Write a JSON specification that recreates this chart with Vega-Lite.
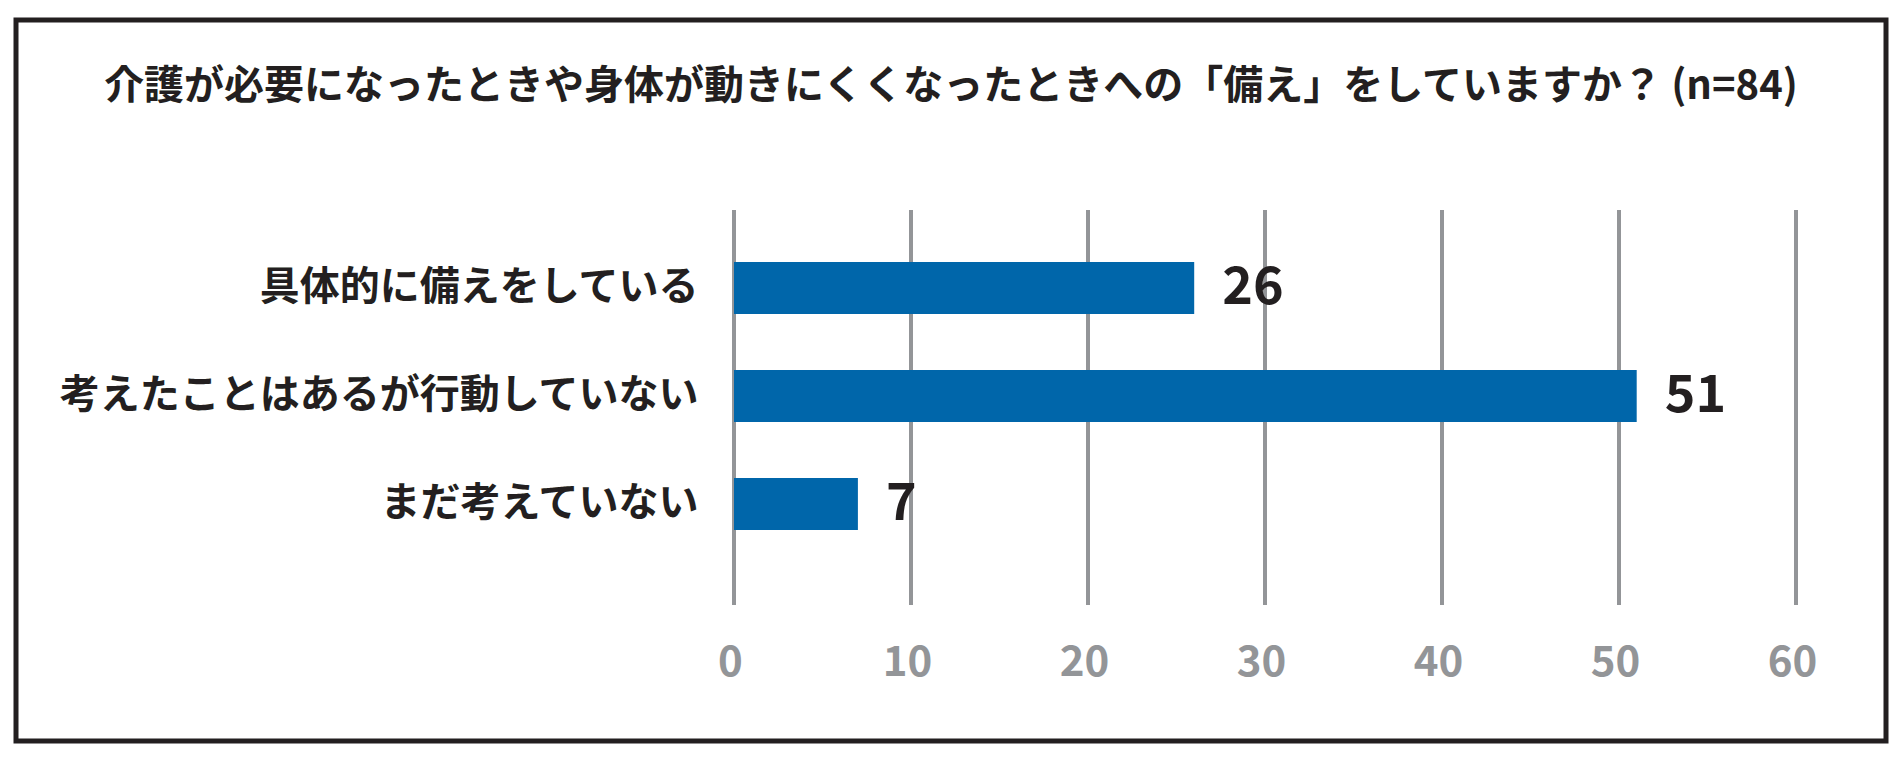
{
  "$schema": "https://vega.github.io/schema/vega-lite/v6.json",
  "description": "介護への備え (n=84)",
  "autosize": {"type": "none"},
  "width": 1870,
  "height": 721,
  "padding": {"left": 16, "top": 20, "right": 17, "bottom": 21},
  "background": "white",
  "title": {
    "text": "介護が必要になったときや身体が動きにくくなったときへの「備え」をしていますか？ (n=84)",
    "frame": "group",
    "anchor": "middle",
    "orient": "top",
    "baseline": "middle",
    "offset": -107,
    "font": "Noto Sans CJK JP",
    "fontSize": 40,
    "fontWeight": "bold",
    "color": "#231f20"
  },
  "datasets": {
    "answers": [
      {"label": "具体的に備えをしている", "count": 26},
      {"label": "考えたことはあるが行動していない", "count": 51},
      {"label": "まだ考えていない", "count": 7}
    ],
    "ticks": [
      {"t": 0}, {"t": 10}, {"t": 20}, {"t": 30}, {"t": 40}, {"t": 50}, {"t": 60}
    ]
  },
  "layer": [
    {
      "data": {"name": "ticks"},
      "mark": {"type": "rule", "color": "#939598", "strokeWidth": 4},
      "encoding": {
        "x": {
          "field": "t",
          "type": "quantitative",
          "scale": {"domain": [0, 60], "range": [718, 1780], "nice": false, "zero": true},
          "axis": {
            "values": [0, 10, 20, 30, 40, 50, 60],
            "orient": "bottom",
            "offset": -79,
            "domain": false,
            "ticks": false,
            "grid": false,
            "title": null,
            "labelPadding": 0,
            "labelFlush": false,
            "labelBaseline": "middle",
            "labelOffset": -4,
            "labelFont": "Noto Sans CJK JP",
            "labelFontSize": 42,
            "labelFontWeight": "bold",
            "labelColor": "#939598"
          }
        },
        "y": {"datum": 0, "type": "quantitative", "scale": {"domain": [0, 1], "range": [190, 585]}, "axis": null},
        "y2": {"datum": 1}
      }
    },
    {
      "data": {"name": "answers"},
      "layer": [
        {
          "mark": {"type": "bar", "color": "#0066aa"},
          "encoding": {
            "x": {"field": "count", "type": "quantitative"},
            "y": {
              "field": "label",
              "type": "nominal",
              "sort": null,
              "scale": {"range": [214, 538], "paddingInner": 0.519, "paddingOuter": 0.2595},
              "axis": {
                "orient": "left",
                "offset": -682,
                "domain": false,
                "ticks": false,
                "grid": false,
                "title": null,
                "labelPadding": 0,
                "labelLimit": 0,
                "labelFont": "Noto Sans CJK JP",
                "labelFontSize": 40,
                "labelFontWeight": "bold",
                "labelColor": "#231f20"
              }
            }
          }
        },
        {
          "mark": {
            "type": "text",
            "align": "left",
            "baseline": "middle",
            "dx": 28,
            "font": "Noto Sans CJK JP",
            "fontSize": 52,
            "fontWeight": "bold",
            "color": "#231f20"
          },
          "encoding": {
            "x": {"field": "count", "type": "quantitative"},
            "y": {"field": "label", "type": "nominal", "sort": null},
            "text": {"field": "count", "type": "quantitative"}
          }
        }
      ]
    }
  ],
  "resolve": {"scale": {"y": "independent"}},
  "config": {
    "view": {"stroke": "#231f20", "strokeWidth": 5, "fill": "white"}
  }
}
